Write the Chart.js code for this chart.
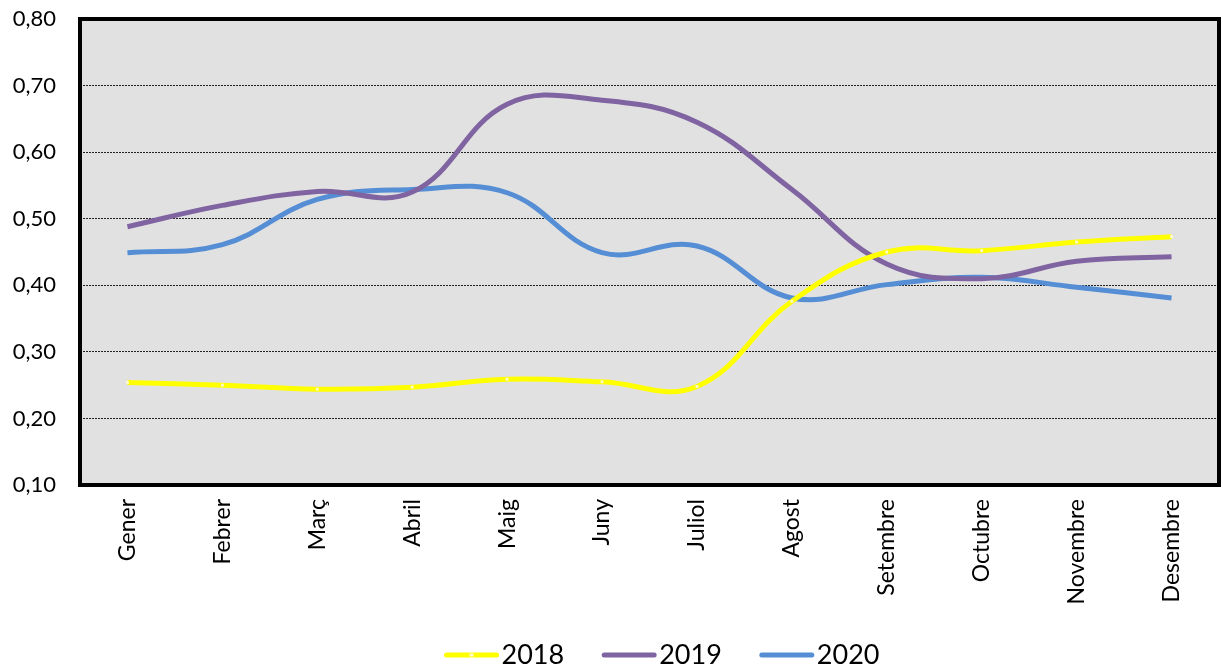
<!DOCTYPE html>
<html>
<head>
<meta charset="utf-8">
<script src="https://cdn.jsdelivr.net/npm/chart.js@4"></script>
<style>
    body { margin: 0; background: #fff; }
</style>
</head>
<body>
<canvas id="myChart" width="1223" height="668"></canvas>
<script>
const months = ["Gener", "Febrer", "Març", "Abril", "Maig", "Juny", "Juliol", "Agost", "Setembre", "Octubre", "Novembre", "Desembre"];
const values2018 = [0.254, 0.250, 0.244, 0.247, 0.259, 0.255, 0.248, 0.376, 0.450, 0.452, 0.465, 0.473];
const values2019 = [0.488, 0.520, 0.541, 0.540, 0.672, 0.678, 0.645, 0.544, 0.432, 0.410, 0.436, 0.443];
const values2020 = [0.449, 0.461, 0.529, 0.544, 0.539, 0.449, 0.459, 0.381, 0.401, 0.412, 0.397, 0.381];
const yMin = 0.1;
const yMax = 0.8;
const yStep = 0.1;

// grey plot area with a heavy black frame
const plotFrame = {
    id: "plotFrame",
    beforeDraw(chart) {
        const {ctx, chartArea: a} = chart;
        ctx.save();
        ctx.fillStyle = "#e1e1e1";
        ctx.fillRect(a.left, a.top, a.right - a.left, a.bottom - a.top);
        ctx.restore();
    },
    afterDraw(chart) {
        const {ctx, chartArea: a} = chart;
        ctx.save();
        ctx.strokeStyle = "#000";
        ctx.lineWidth = 4;
        ctx.strokeRect(a.left, a.top, a.right - a.left, a.bottom - a.top);
        ctx.restore();
    }
};

// legend under the axis: line sample, then the year right after it
const bottomLegend = {
    id: "bottomLegend",
    afterDraw(chart) {
        const ctx = chart.ctx;
        const sets = chart.data.datasets;
        const lineLen = 54, textGap = 3, itemGap = 38;
        const cx = 662, cy = 655;
        ctx.save();
        ctx.font = "27px Lato";
        ctx.textBaseline = "middle";
        const widths = sets.map(ds => ctx.measureText(ds.label).width);
        let total = 0;
        widths.forEach(w => total += lineLen + textGap + w);
        total += itemGap * (sets.length - 1);
        let x = cx - total / 2;
        sets.forEach((ds, i) => {
            ctx.strokeStyle = ds.borderColor;
            ctx.lineWidth = 5;
            ctx.lineCap = "round";
            ctx.beginPath();
            ctx.moveTo(x + 2, cy);
            ctx.lineTo(x + lineLen - 2, cy);
            ctx.stroke();
            if (ds.pointRadius) {
                ctx.fillStyle = ds.pointBackgroundColor;
                ctx.fillRect(x + lineLen / 2 - 2, cy - 1.5, 4, 3);
            }
            ctx.fillStyle = "#000";
            ctx.fillText(ds.label, x + lineLen + textGap, cy);
            x += lineLen + textGap + widths[i] + itemGap;
        });
        ctx.restore();
    }
};

window.onload = () => {
    addChart();
}

function addChart() {
    const data = {
        labels: months,
        datasets: [
            {
                label: "2018",
                data: values2018,
                borderColor: "#ffff00",
                backgroundColor: "#ffff00",
                borderWidth: 5,
                pointStyle: "rect",
                pointRadius: 2,
                pointBorderWidth: 0,
                pointBackgroundColor: "#fffbd0",
                tension: 0.4
            },
            {
                label: "2019",
                data: values2019,
                borderColor: "#8064a2",
                backgroundColor: "#8064a2",
                borderWidth: 5,
                pointRadius: 0,
                tension: 0.4
            },
            {
                label: "2020",
                data: values2020,
                borderColor: "#558ed5",
                backgroundColor: "#558ed5",
                borderWidth: 5,
                pointRadius: 0,
                tension: 0.4
            }
        ]
    }

    const config = {
        type: "line",
        data: data,
        options: {
            responsive: false,
            animation: false,
            layout: {
                padding: { top: 19, right: 2, left: 0, bottom: 0 }
            },
            plugins: {
                legend: { display: false },
                tooltip: { enabled: false }
            },
            scales: {
                x: {
                    offset: true,
                    grid: { display: false, drawTicks: false },
                    border: { display: false },
                    afterFit: s => {
                        s.height = 183;
                        s.paddingLeft = 0;
                        s.paddingRight = 0;
                        s.paddingTop = 0;
                    },
                    ticks: {
                        color: "#000",
                        font: { family: "Lato", size: 23 },
                        minRotation: 90,
                        maxRotation: 90,
                        padding: 14,
                        autoSkip: false
                    }
                },
                y: {
                    min: yMin,
                    max: yMax,
                    afterFit: s => {
                        s.width = 80;
                        s.paddingTop = 0;
                        s.paddingBottom = 0;
                    },
                    border: { display: false, dash: [2, 1] },
                    grid: {
                        color: "#222",
                        lineWidth: 1,
                        drawTicks: false
                    },
                    ticks: {
                        stepSize: yStep,
                        color: "#000",
                        font: { family: "Lato", size: 22 },
                        padding: 24,
                        callback: v => v.toFixed(2).replace(".", ",")
                    }
                }
            }
        },
        plugins: [plotFrame, bottomLegend]
    }

    const ctx = document.getElementById('myChart').getContext('2d');
    const myChart = new Chart(ctx, config);
}
</script>
</body>
</html>
